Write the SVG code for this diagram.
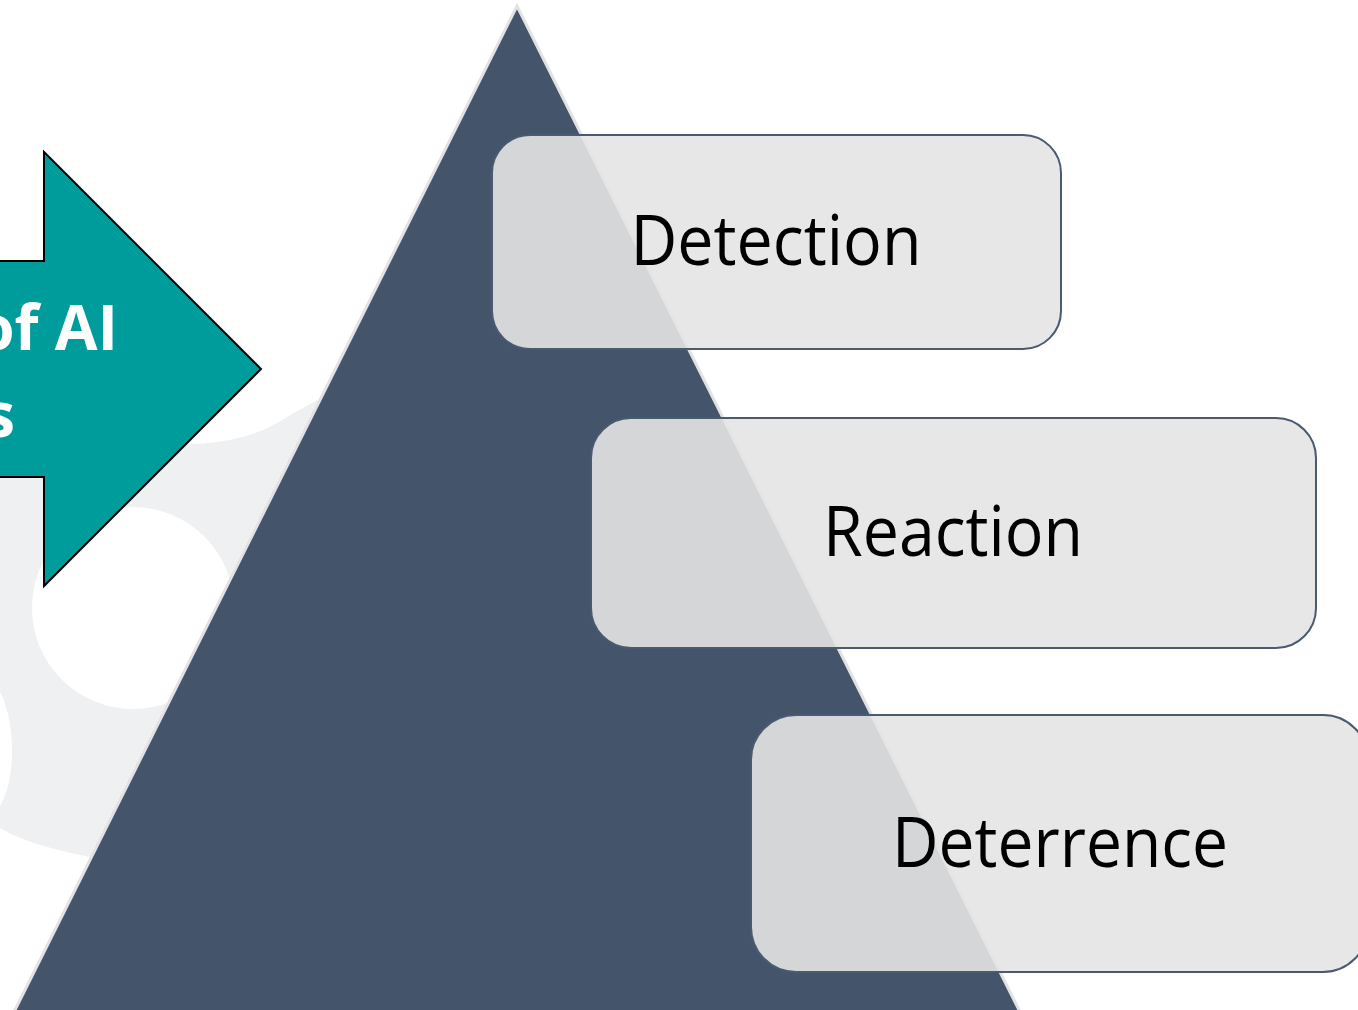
<svg xmlns="http://www.w3.org/2000/svg" width="1358" height="1010" viewBox="0 0 1358 1010">
  <style>
    .box { fill: #E4E4E4; fill-opacity: 0.9; stroke: #4A5A70; stroke-width: 2; }
    .lbl { font-family: "Open Sans", "Noto Sans", sans-serif; font-size: 70px; fill: #000000; text-anchor: middle; }
    .arrtxt { font-family: "Open Sans", "Noto Sans", sans-serif; font-size: 62px; font-weight: bold; fill: #FFFFFF; text-anchor: end; }
  </style>
  <rect x="0" y="0" width="1358" height="1010" fill="#FFFFFF"/>
  <g id="watermark">
    <path d="M 0 440 L 120 440 C 180 446, 240 450, 290 415 L 345 385 L 345 880 L 120 862 C 80 856, 30 846, 0 828 L 0 806 C 16 780, 16 722, 0 692 Z" fill="#EFF0F2"/>
    <circle cx="133" cy="608" r="101" fill="#FFFFFF"/>
  </g>
  <g id="pyramid">
    <path d="M 517 6 L -10 1060 L 1044 1060 Z" fill="#44546A" stroke="#E2E2E2" stroke-width="3" stroke-linejoin="miter"/>
  </g>
  <g id="arrow">
    <path d="M -10 261 L 44 261 L 44 152 L 261 369 L 44 586 L 44 477 L -10 477 Z" fill="#009B9B" stroke="#000000" stroke-width="2"/>
    <text class="arrtxt" x="118" y="350">of AI</text>
    <text class="arrtxt" x="15" y="437">s</text>
  </g>
  <g id="connectors"></g>
  <g id="detection">
    <rect class="box" x="492" y="135" width="569" height="214" rx="38" ry="38"/>
    <text class="lbl" x="776" y="265" textLength="291" lengthAdjust="spacingAndGlyphs">Detection</text>
  </g>
  <g id="reaction">
    <rect class="box" x="591" y="418" width="725" height="230" rx="40" ry="40"/>
    <text class="lbl" x="953" y="556" textLength="260" lengthAdjust="spacingAndGlyphs">Reaction</text>
  </g>
  <g id="deterrence">
    <rect class="box" x="751" y="715" width="617" height="257" rx="45" ry="45"/>
    <text class="lbl" x="1060" y="867" textLength="336" lengthAdjust="spacingAndGlyphs">Deterrence</text>
  </g>
</svg>
